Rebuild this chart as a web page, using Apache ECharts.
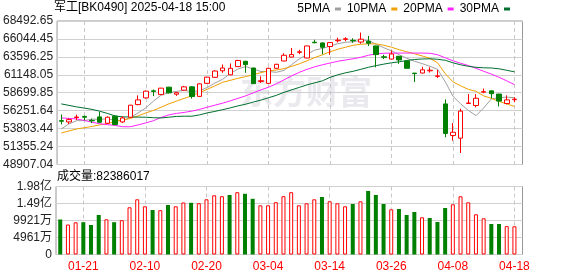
<!DOCTYPE html>
<html><head><meta charset="utf-8">
<script src="https://cdn.jsdelivr.net/npm/echarts@6/dist/echarts.min.js"></script>
<style>html,body{margin:0;padding:0;background:#fff}#c{width:578px;height:276px}</style>
</head><body><div id="c"></div>
<script>
const dates = ['01-16','01-17','01-20','01-21','01-22','01-23','01-24','01-27',
  '02-05','02-06','02-07','02-10','02-11','02-12','02-13','02-14','02-17','02-18','02-19','02-20','02-21','02-24','02-25','02-26','02-27','02-28',
  '03-03','03-04','03-05','03-06','03-07','03-10','03-11','03-12','03-13','03-14','03-17','03-18','03-19','03-20','03-21','03-24','03-25','03-26','03-27','03-28','03-31',
  '04-01','04-02','04-03','04-07','04-08','04-09','04-10','04-11','04-14','04-15','04-16','04-17','04-18'];
const openP = [54895,54717,55319,55469,54922,55401,54539,55497,54717,55360,
  57083,58000,58958,58452,59464,58506,59053,59505,58205,59984,
  60805,61694,61147,62268,62993,62077,60244,59984,62036,63034,
  63568,64211,63445,65593,65497,65004,65798,65989,65852,65620,
  65729,65086,63609,63294,63677,63034,61379,61393,61694,60941,
  57179,52870,52501,57234,56960,58780,58958,58520,57234,57754];
const closeP = [54813,55032,55387,55360,54867,54676,55360,54348,55264,57001,
  57727,58917,58889,59327,58684,58700,59505,58178,59915,60832,
  61666,62077,62036,63103,62542,59943,60340,62036,62583,63814,
  63910,64293,65086,65524,64909,65551,65880,66071,65798,66003,
  65456,63910,63540,63992,63171,62036,61311,61831,61776,61010,
  53144,53308,56194,57302,57945,58848,58575,57562,57727,57822];
const lowP = [54375,54443,54991,54922,54580,54580,54443,54265,54580,55264,
  57001,57904,58233,58411,58616,58274,58958,57904,58137,59915,
  60736,61420,61106,62241,61420,59915,60025,59915,61967,62993,
  63540,63978,63404,65456,63951,63883,65565,65729,65524,65387,
  65086,62172,63294,63267,62651,62008,60148,61352,61461,60709,
  52624,52159,50476,57179,56700,58643,57932,56837,57111,57412];
const highP = [55743,55222,55716,55579,55168,56085,55469,55633,55497,57042,
  58342,58999,59136,59368,59505,58821,59642,59573,59984,60873,
  61762,62556,62692,63199,63062,62104,60941,62104,62651,64088,
  64813,64567,65114,65935,65565,65565,66208,66277,66140,66920,
  66454,65114,63883,64471,63705,63062,61400,62241,62173,61831,
  57795,54553,56523,58520,58520,59272,58985,58547,58342,58096];
const volume = [102130000,87540000,93960000,94250000,86080000,115260000,102710000,94250000,100090000,137730000,
  161070000,140650000,129850000,129270000,144440000,140650000,151740000,150860000,149690000,161070000,
  172750000,170120000,173620000,181790000,177120000,162530000,143570000,143570000,152610000,170120000,
  181790000,143570000,149400000,161070000,167790000,155240000,149400000,140650000,147360000,155240000,
  185290000,173620000,147360000,131890000,132770000,115260000,124020000,108550000,106510000,94840000,
  135690000,146480000,169830000,152320000,117300000,105630000,89000000,89000000,82800000,82386017];
const ma5 = [53759,54443,54895,54895,55100,55073,55141,54936,54908,55333,
  55934,56646,57562,58369,58711,58889,59012,58862,58985,59409,
  60025,60531,61311,61940,62282,61940,61598,61598,61489,61748,
  62542,63322,63937,64526,64744,65073,65387,65593,65647,65866,
  65839,65319,64840,64430,63883,63404,62993,62679,62309,61899,
  60189,58219,57179,56290,55579,56632,57863,58041,58096,58028];
const ma10 = [53212,53486,53759,53923,54101,54307,54484,54785,54950,55196,
  55538,55948,56290,56728,57179,57562,57932,58274,58725,59163,
  59642,60121,60394,60668,60900,61174,61448,61694,61803,61995,
  62309,62651,63062,63500,63883,64293,64635,64909,65182,65319,
  65387,65360,65182,64909,64567,64293,64019,63718,63404,62788,
  61283,60189,59642,59163,58889,58274,57932,57521,57179,56837];
const ma20 = [55264,55196,55127,54922,54676,54471,54348,54238,54060,54060,
  54307,54580,54881,55333,55675,55880,56017,56194,56427,56728,
  57001,57275,57590,57932,58274,58684,59095,59464,59915,60463,
  61010,61489,61899,62241,62515,62761,62993,63171,63335,63541,
  63814,64019,64088,64115,64115,64115,64115,64115,64088,63883,
  63472,63062,62720,62419,62036,61625,61242,60805,60326,59806];
const ma30 = [57179,56974,56769,56605,56427,56181,55880,55538,55401,55401,
  55374,55360,55292,55264,55360,55469,55497,55497,55675,55948,
  56153,56386,56632,56906,57138,57426,57699,58028,58342,58753,
  59095,59437,59779,60052,60326,60805,61147,61420,61626,61899,
  62173,62405,62610,62788,62925,63103,63240,63308,63335,63267,
  63130,62788,62515,62309,62173,62104,62077,61967,61762,61557];
const priceTicks = [48907.04,51355.24,53803.44,56251.64,58699.85,61148.05,63596.25,66044.45,68492.65];
const priceTickLabels = ['48907.04','51355.24','53803.44','56251.64','58699.85','61148.05','63596.25','66044.45','68492.65'];
const volTicks = [0,49606000,99212000,148818000,198424000];
const volTickLabels = ['0','4961万','9921万','1.49亿','1.98亿'];
const dateTicks = ['01-21','02-10','02-20','03-04','03-14','03-26','04-08','04-18'];
const maNames = ['5PMA','10PMA','20PMA','30PMA'];

const FONT = '"Liberation Sans","Noto Sans CJK SC",sans-serif';
const tickIdx = dateTicks.map(d => dates.indexOf(d));
const nearestLabel = (ticks, labels, v) => {
  let best = 0;
  ticks.forEach((t, k) => { if (Math.abs(t - v) < Math.abs(ticks[best] - v)) best = k; });
  return labels[best];
};
const candle = dates.map((d, i) => [i, openP[i], closeP[i], lowP[i], highP[i]]);
const volData = volume.map((v, i) => {
  const up = i === 0 ? closeP[i] >= openP[i] : closeP[i] >= closeP[i - 1];
  return {value: [i, v], itemStyle: up ? {color: '#ffffff', borderColor: '#ff0000', borderWidth: 1} : {color: '#008000', borderWidth: 0}};
});
const maColors = ['#a0a0a0', '#f0a000', '#ff22ff', '#006f2e'];
const maLines = [ma5, ma10, ma20, ma30].map((arr, k) => ({
  type: 'line', name: maNames[k], xAxisIndex: 0, yAxisIndex: 0,
  data: arr.map((v, i) => [i, v]), showSymbol: false, symbol: 'none',
  lineStyle: {width: 1, color: maColors[k]}, itemStyle: {color: maColors[k]}, silent: true, z: 3
}));

const xBase = {
  type: 'value', min: -0.55, max: 60.05,
  axisLine: {show: false},
  axisTick: {show: false, customValues: tickIdx},
  splitLine: {show: true, lineStyle: {color: '#c8c8c8', type: [4, 3], width: 1}}
};

const chart = echarts.init(document.getElementById('c'), null, {renderer: 'canvas'});
chart.setOption({
  animation: false,
  backgroundColor: '#ffffff',
  title: [
    {text: '军工[BK0490] 2025-04-18 15:00', left: 54, top: 2, padding: 0,
     textStyle: {fontSize: 12, fontWeight: 'normal', color: '#000', fontFamily: FONT}},
    {text: '成交量:' + volume[volume.length - 1], left: 57, top: 171, padding: 0,
     textStyle: {fontSize: 12, fontWeight: 'normal', color: '#000', fontFamily: FONT}}
  ],
  legend: {
    data: maNames, right: 68, top: 3, padding: 0, align: 'right', icon: 'rect',
    itemWidth: 6, itemHeight: 3, itemGap: 6,
    textStyle: {fontSize: 12, color: '#000', fontFamily: FONT}
  },
  graphic: [{
    type: 'text', left: 240, top: 75, z: 0, silent: true,
    style: {text: '东方财富', font: 'bold 33px "Noto Sans CJK SC"', fill: '#e9e9ee'}
  }],
  grid: [
    {left: 56, top: 21, width: 466.5, height: 143.5, show: true, borderColor: '#999', borderWidth: 1, backgroundColor: 'transparent'},
    {left: 56, top: 186.5, width: 466.5, height: 68, show: true, borderColor: '#999', borderWidth: 1, backgroundColor: 'transparent'}
  ],
  xAxis: [
    Object.assign({}, xBase, {gridIndex: 0, axisLabel: {show: false}}),
    Object.assign({}, xBase, {gridIndex: 1,
      axisLabel: {show: true, customValues: tickIdx, formatter: v => dates[Math.round(v)] || '',
        color: '#ff0000', fontSize: 12, fontFamily: FONT, margin: 6}})
  ],
  yAxis: [
    {type: 'value', gridIndex: 0, min: priceTicks[0], max: priceTicks[priceTicks.length - 1],
     axisLine: {show: false}, axisTick: {show: false, customValues: priceTicks},
     axisLabel: {customValues: priceTicks, formatter: v => nearestLabel(priceTicks, priceTickLabels, v),
       color: '#222', fontSize: 12, fontFamily: FONT, margin: 4},
     splitLine: {show: true, lineStyle: {color: '#d0d0d0', width: 1}}},
    {type: 'value', gridIndex: 1, min: volTicks[0], max: volTicks[volTicks.length - 1], interval: volTicks[1],
     axisLine: {show: false}, axisTick: {show: false},
     axisLabel: {formatter: v => nearestLabel(volTicks, volTickLabels, v),
       color: '#222', fontSize: 12, fontFamily: FONT, margin: 4},
     splitLine: {show: true, lineStyle: {color: '#d0d0d0', width: 1}}}
  ],
  series: [
    {type: 'candlestick', name: 'K', xAxisIndex: 0, yAxisIndex: 0, data: candle,
     encode: {x: 0, y: [1, 2, 3, 4]}, barWidth: 5, silent: true, z: 4,
     itemStyle: {color: '#ffffff', color0: '#008000', borderColor: '#ff0000', borderColor0: '#008000', borderWidth: 1}}
  ].concat(maLines).concat([
    {type: 'bar', name: 'VOL', xAxisIndex: 1, yAxisIndex: 1, data: volData, barWidth: 4, silent: true}
  ])
});
</script></body></html>
